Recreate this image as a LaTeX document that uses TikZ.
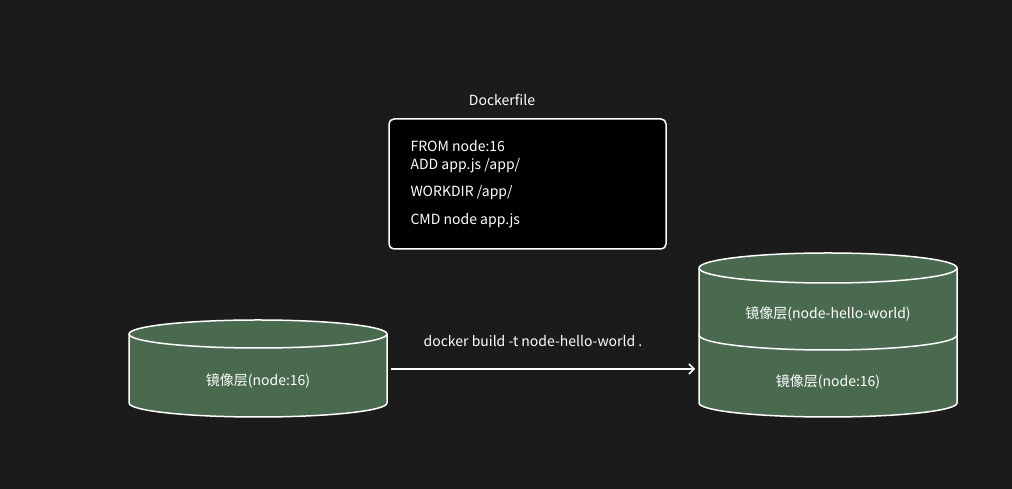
\documentclass[tikz,border=0pt]{standalone}
\usepackage{fontspec}
\setmainfont{Noto Sans CJK SC}
\usetikzlibrary{arrows.meta}
\definecolor{bgdark}{HTML}{1B1B1B}
\definecolor{layergreen}{HTML}{4A6A4F}
\tikzset{
    label/.style={text=white, font=\fontsize{14}{16}\selectfont},
    codeline/.style={label, anchor=west},
    layerbody/.style={fill=layergreen, draw=white, line width=1.5pt},
}
\begin{document}
\begin{tikzpicture}[x=1pt, y=1pt]
        \fill[bgdark] (0, 0) rectangle (1012, 489);

        \node[label] (title) at (502, 389) {Dockerfile};
        \draw[white, line width=1.5pt, fill=black, rounded corners=5pt] (389, 240) rectangle (666, 370);
        \node[codeline] (from) at (407, 343) {FROM node:16};
        \node[codeline] (add) at (407, 323) {ADD app.js /app/};
        \node[codeline] (workdir) at (407, 296) {WORKDIR /app/};
        \node[codeline] (cmd) at (407, 268) {CMD node app.js};

        % base image
        \filldraw[layerbody] (129, 155) -- (129, 86) arc[start angle=180, end angle=360, x radius=129, y radius=14]
            -- (387, 155) arc[start angle=0, end angle=180, x radius=129, y radius=14] -- cycle;
        \draw[white, line width=1.5pt] (129, 155) arc[start angle=180, end angle=360, x radius=129, y radius=14];
        \node[label] (baselayer) at (258, 108) {镜像层(node:16)};

        % built image
        \filldraw[layerbody] (699, 154) -- (699, 86) arc[start angle=180, end angle=360, x radius=129, y radius=14]
            -- (957, 154) arc[start angle=0, end angle=180, x radius=129, y radius=14] -- cycle;
        \filldraw[layerbody] (699, 221) -- (699, 154) arc[start angle=180, end angle=360, x radius=129, y radius=15]
            -- (957, 221) arc[start angle=0, end angle=180, x radius=129, y radius=15] -- cycle;
        \draw[white, line width=1.5pt] (699, 221) arc[start angle=180, end angle=360, x radius=129, y radius=15];
        \node[label] (lowerlayer) at (828, 107) {镜像层(node:16)};
        \node[label] (upperlayer) at (828, 175) {镜像层(node-hello-world)};

        \coordinate (baseedge) at (391, 120);
        \coordinate (builtedge) at (695, 120);
        \draw[white, line width=1.5pt, -{Straight Barb[length=5pt, width=10pt]}] (baseedge) -- (builtedge);
        \node[label] (cmdlabel) at (533, 148) {docker build -t node-hello-world .};
    \end{tikzpicture}
\end{document}
